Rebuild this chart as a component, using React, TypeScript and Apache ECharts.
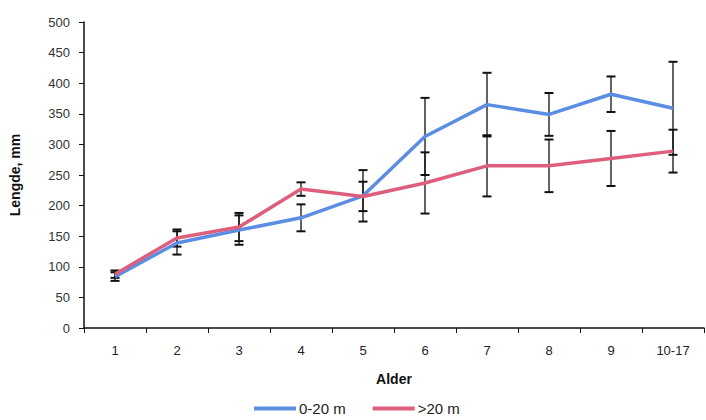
import React, { useEffect, useRef } from "react";
import * as echarts from "echarts";

// Age classes and mean length (mm) with standard deviation per depth group
const ageClasses = ["1", "2", "3", "4", "5", "6", "7", "8", "9", "10-17"];
const shallowMean = [84, 139, 160, 180, 216, 313, 365, 349, 382, 359];
const shallowSd = [7, 19, 24, 22, 42, 63, 52, 35, 29, 76];
const deepMean = [88, 147, 165, 227, 215, 237, 265, 265, 277, 289];
const deepSd = [6, 14, 23, 11, 24, 50, 50, 43, 45, 35];
const yTicks = { min: 0, max: 500, interval: 50 };

const BLUE = "#5B8DE3";
const RED = "#DE5F7C";
const FONT = "Liberation Sans, Arial, sans-serif";

function errorSeries(mean: number[], sd: number[]) {
  return {
    type: "custom",
    silent: true,
    z: 1,
    data: mean.map((m, i) => [i, m - sd[i], m + sd[i]]),
    renderItem: (_params: any, api: any) => {
      const i = api.value(0);
      const lo = api.coord([i, api.value(1)]);
      const hi = api.coord([i, api.value(2)]);
      const half = 4.5;
      const style = { stroke: "#111", lineWidth: 1.3 };
      return {
        type: "group",
        children: [
          { type: "line", shape: { x1: lo[0], y1: lo[1], x2: hi[0], y2: hi[1] }, style },
          { type: "line", shape: { x1: lo[0] - half, y1: lo[1], x2: lo[0] + half, y2: lo[1] }, style: { stroke: "#111", lineWidth: 2 } },
          { type: "line", shape: { x1: hi[0] - half, y1: hi[1], x2: hi[0] + half, y2: hi[1] }, style: { stroke: "#111", lineWidth: 2 } },
        ],
      };
    },
  };
}

export default function App() {
  const ref = useRef<HTMLDivElement>(null);

  useEffect(() => {
    if (!ref.current) return;
    const chart = echarts.init(ref.current, undefined, { renderer: "svg" });
    chart.setOption({
      animation: false,
      backgroundColor: "#ffffff",
      grid: { left: 80, right: 2, top: 22, bottom: 92 },
      legend: {
        bottom: -1,
        left: 249,
        itemWidth: 42,
        itemHeight: 4,
        itemGap: 27,
        icon: "rect",
        textStyle: { fontFamily: FONT, fontSize: 15, color: "#222", padding: [0, 0, 0, -2] },
        data: ["0-20 m", ">20 m"],
      },
      xAxis: {
        type: "category",
        data: ageClasses,
        boundaryGap: true,
        name: "Alder",
        nameLocation: "middle",
        nameGap: 44,
        nameTextStyle: { fontFamily: FONT, fontSize: 14, fontWeight: "bold", color: "#111" },
        axisLine: { lineStyle: { color: "#111", width: 1.5 } },
        axisTick: { show: true, length: 5, inside: false, lineStyle: { color: "#111" } },
        axisLabel: { fontFamily: FONT, fontSize: 13, color: "#222", margin: 16 },
        splitLine: { show: false },
      },
      yAxis: {
        type: "value",
        min: yTicks.min,
        max: yTicks.max,
        interval: yTicks.interval,
        name: "Lengde, mm",
        nameLocation: "middle",
        nameGap: 62,
        nameRotate: 90,
        nameTextStyle: { fontFamily: FONT, fontSize: 14, fontWeight: "bold", color: "#111" },
        axisLine: { show: true, lineStyle: { color: "#111", width: 1.5 } },
        axisTick: { show: true, length: 5, lineStyle: { color: "#111" } },
        axisLabel: { fontFamily: FONT, fontSize: 13, color: "#333", margin: 14 },
        splitLine: { show: false },
      },
      series: [
        errorSeries(shallowMean, shallowSd),
        errorSeries(deepMean, deepSd),
        {
          name: "0-20 m",
          type: "line",
          data: shallowMean,
          showSymbol: false,
          z: 3,
          itemStyle: { color: BLUE },
          lineStyle: { color: BLUE, width: 3.5 },
        },
        {
          name: ">20 m",
          type: "line",
          data: deepMean,
          showSymbol: false,
          z: 4,
          itemStyle: { color: RED },
          lineStyle: { color: RED, width: 3.5 },
        },
      ],
    });
    return () => chart.dispose();
  }, []);

  return (
    <div
      ref={ref}
      style={{ position: "fixed", left: 0, top: 0, width: 706, height: 420, background: "#fff" }}
    />
  );
}
